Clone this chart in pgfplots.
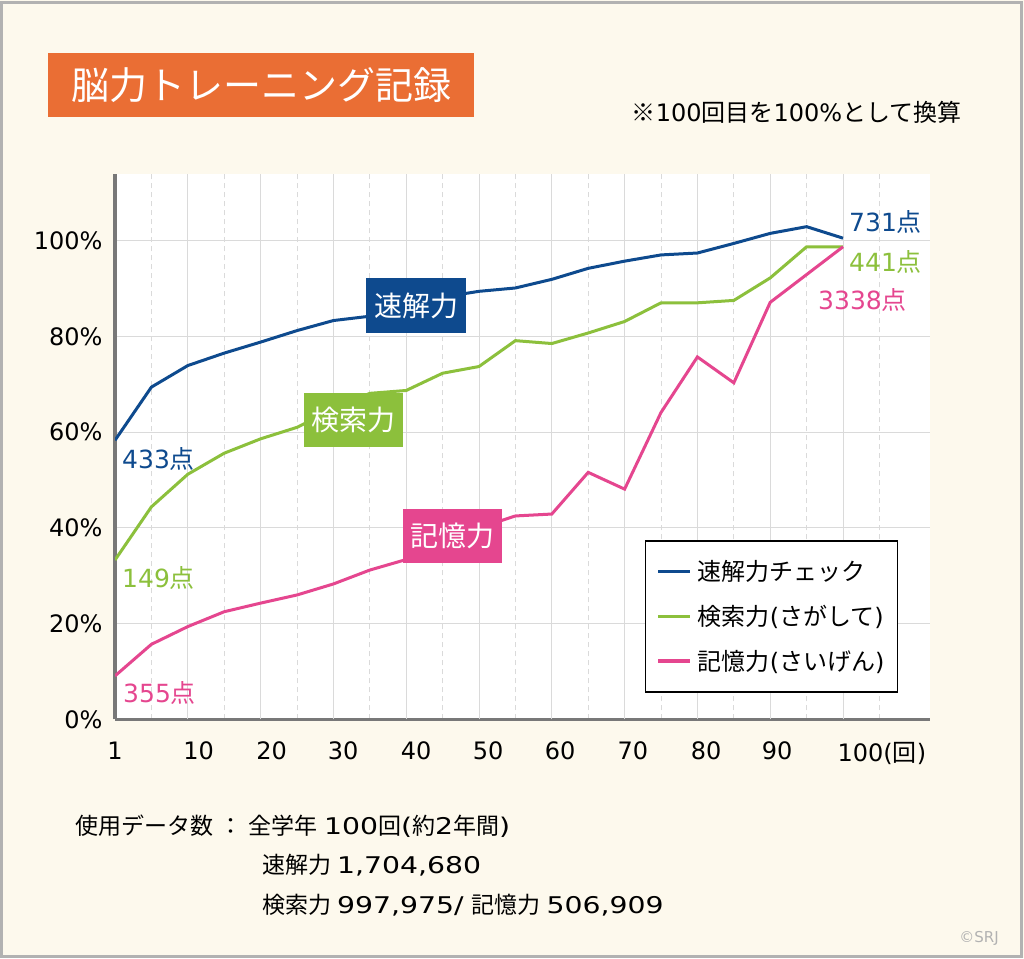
\documentclass[border=0pt]{standalone}
\usepackage{fontspec}
\setmainfont{Noto Sans CJK JP}
\newfontfamily\latfont{DejaVu Sans}
\newfontfamily\widefont[FakeStretch=1.23]{DejaVu Sans}
\newcommand\la[1]{{\latfont #1}}
\newcommand\wi[1]{{\widefont #1}}
\usepackage{pgfplots}
\pgfplotsset{compat=1.18}
\definecolor{cream}{RGB}{253,249,237}
\definecolor{bordergray}{RGB}{178,178,178}
\definecolor{titleorange}{RGB}{234,110,52}
\definecolor{blueline}{RGB}{14,74,142}
\definecolor{greenline}{RGB}{140,192,60}
\definecolor{pinkline}{RGB}{229,70,143}
\definecolor{gridgray}{RGB}{218,218,218}
\definecolor{axisgray}{RGB}{120,120,120}
\begin{document}
\begin{tikzpicture}
\fill[cream] (0,0) rectangle (1024pt,958pt);
\draw[bordergray, line width=3pt] (1.5pt,1.5pt) rectangle (1021pt,955pt);
\begin{axis}[
  at={(115pt,238.5pt)}, anchor=south west,
  scale only axis, width=815pt, height=545.5pt,
  xmin=0, xmax=22.39, ymin=0, ymax=113.9,
  axis background/.style={fill=white},
  axis x line=bottom, axis y line=left,
  axis line style={-, draw=axisgray, line width=3.5pt},
  xtick={0,2.3,4.3,6.27,8.27,10.25,12.23,14.23,16.24,18.19,21.07},
  xticklabels={1,10,20,30,40,50,60,70,80,90,100({\rmfamily 回})},
  ytick={0,20,40,60,80,100},
  yticklabels={0\%,20\%,40\%,60\%,80\%,100\%},
  major tick length=0pt, minor tick length=0pt,
  tick style={draw=none},
  ymajorgrids, xmajorgrids=false,
  major grid style={gridgray, line width=1pt},
  extra x ticks={2,4,6,8,10,12,14,16,18,20},
  extra x tick labels={},
  extra x tick style={grid=major, major grid style={gridgray, line width=1pt}},
  minor xtick={1,3,5,7,9,11,13,15,17,19,21},
  xminorgrids,
  minor grid style={gridgray, line width=1pt, dash pattern=on 5pt off 4pt},
  ticklabel style={font=\latfont\fontsize{24}{28}\selectfont, text=black},
  xticklabel style={yshift=-19pt},
  yticklabel style={xshift=-9pt},
  legend style={at={(0.650,0.329)}, anchor=north west, draw=black,
    line width=1.5pt, fill=white, font=\fontsize{24}{28}\selectfont,
    row sep=19pt, inner xsep=11pt, inner ysep=18pt},
  legend cell align=left,
  legend image code/.code={\draw[#1, line width=3.5pt] (2pt,0pt) -- (34pt,0pt);\path (38pt,0pt);},
]
\addplot[blueline, line width=3pt] coordinates {
(0,58.3) (1,69.4) (2,73.9) (3,76.5) (4,78.8) (5,81.2) (6,83.3) (7,84.2)
(8,86.0) (9,88.2) (10,89.4) (11,90.1) (12,91.9) (13,94.2) (14,95.7)
(15,97.0) (16,97.4) (17,99.4) (18,101.5) (19,102.9) (20,100.5)};
\addlegendentry{速解力チェック}
\addplot[greenline, line width=3pt] coordinates {
(0,33.3) (1,44.4) (2,51.2) (3,55.6) (4,58.6) (5,61.0) (6,64.8) (7,68.1)
(8,68.7) (9,72.3) (10,73.7) (11,79.1) (12,78.5) (13,80.7) (14,83.1)
(15,87.0) (16,87.0) (17,87.5) (18,92.2) (19,98.7) (20,98.7)};
\addlegendentry{検索力\la{(}さがして\la{)}}
\addplot[pinkline, line width=3pt] coordinates {
(0,9.1) (1,15.7) (2,19.4) (3,22.5) (4,24.3) (5,26.0) (6,28.3) (7,31.2)
(8,33.4) (9,37.0) (10,40.0) (11,42.5) (12,42.9) (13,51.6) (14,48.1)
(15,64.1) (16,75.7) (17,70.3) (18,87.1) (19,92.9) (20,98.7)};
\addlegendentry{記憶力\la{(}さいげん\la{)}}
\end{axis}
\begin{scope}[x=1pt, y=-1pt, shift={(0,958pt)}]
  \fill[titleorange] (48,53) rectangle (474,117);
  \node[text=white, font=\fontsize{38}{42}\selectfont] at (261,85) {脳力トレーニング記録};
  \node[anchor=east, font=\fontsize{24}{28}\selectfont] at (965,112) {※\la{100}回目を\la{100\%}として換算};
  \fill[blueline] (366,278) rectangle (466,333);
  \node[text=white, font=\fontsize{28}{32}\selectfont] at (416,305.5) {速解力};
  \fill[greenline] (304,393) rectangle (403,447);
  \node[text=white, font=\fontsize{28}{32}\selectfont] at (353.5,420) {検索力};
  \fill[pinkline] (403,509) rectangle (502,563);
  \node[text=white, font=\fontsize{28}{32}\selectfont] at (452.5,536) {記憶力};
  \node[anchor=west, text=blueline, font=\fontsize{25}{28}\selectfont, inner sep=0pt] at (122,459) {\la{433}点};
  \node[anchor=west, text=greenline, font=\fontsize{25}{28}\selectfont, inner sep=0pt] at (122,578) {\la{149}点};
  \node[anchor=west, text=pinkline, font=\fontsize{25}{28}\selectfont, inner sep=0pt] at (123,693) {\la{355}点};
  \node[anchor=west, text=blueline, font=\fontsize{25}{28}\selectfont, inner sep=0pt] at (849,222) {\la{731}点};
  \node[anchor=west, text=greenline, font=\fontsize{25}{28}\selectfont, inner sep=0pt] at (849,262) {\la{441}点};
  \node[anchor=west, text=pinkline, font=\fontsize{25}{28}\selectfont, inner sep=0pt] at (818,300) {\la{3338}点};
  \node[anchor=west, font=\fontsize{23}{27}\selectfont, inner sep=0pt] at (75,826) {使用データ数\hspace{6pt}：\hspace{6pt}全学年\hspace{7pt}\wi{100}回\wi{(}約\wi{2}年間\wi{)}};
  \node[anchor=west, font=\fontsize{23}{27}\selectfont, inner sep=0pt] at (262,865) {速解力\hspace{6pt}\wi{1,704,680}};
  \node[anchor=west, font=\fontsize{23}{27}\selectfont, inner sep=0pt] at (262,905) {検索力\hspace{6pt}\wi{997,975/}\hspace{8pt}記憶力\hspace{6pt}\wi{506,909}};
  \node[text=bordergray, font=\latfont\fontsize{15}{18}\selectfont, inner sep=0pt] at (979,938) {©SRJ};
\end{scope}
\end{tikzpicture}
\end{document}
